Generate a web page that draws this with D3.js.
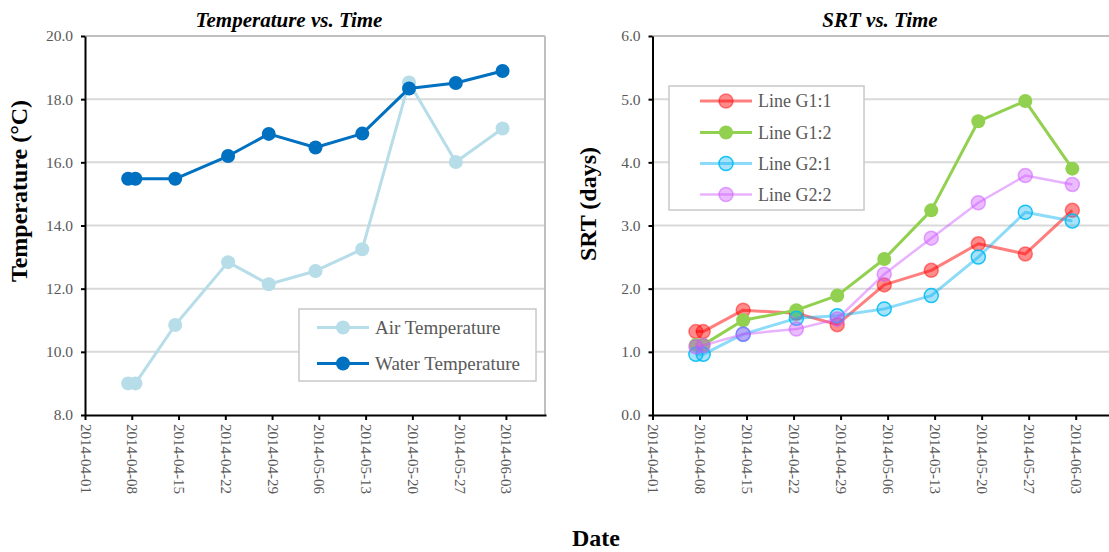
<!DOCTYPE html>
<html>
<head>
<meta charset="utf-8">
<script src="https://cdn.jsdelivr.net/npm/d3@7"></script>
<style>
  body { margin: 0; background: #fff; }
  svg { display: block; }
</style>
</head>
<body>
<svg width="1109" height="552"></svg>
<script>
// dates of the samples (read off the plot, not exactly on the weekly ticks)
const sampleDates = ["2014-04-07 11:00", "2014-04-08 13:00", "2014-04-14 12:00", "2014-04-22 10:00",
  "2014-04-28 12:00", "2014-05-05 12:00", "2014-05-12 12:00", "2014-05-19 12:00",
  "2014-05-26 12:00", "2014-06-02 12:00"];

const airTemp   = [9.0, 9.0, 10.85, 12.84, 12.14, 12.56, 13.25, 18.53, 16.01, 17.07];
const waterTemp = [15.48, 15.48, 15.48, 16.2, 16.9, 16.47, 16.91, 18.34, 18.51, 18.89];

const srtG11 = [1.32, 1.32, 1.66, 1.61, 1.43, 2.06, 2.29, 2.71, 2.55, 3.24];
const srtG12 = [1.11, 1.11, 1.50, 1.66, 1.89, 2.47, 3.24, 4.65, 4.97, 3.90];
const srtG21 = [0.96, 0.96, 1.28, 1.53, 1.57, 1.68, 1.89, 2.50, 3.21, 3.07];
const srtG22 = [1.08, 1.10, 1.28, 1.36, 1.52, 2.23, 2.80, 3.36, 3.79, 3.65];

const dateTicks = ["2014-04-01", "2014-04-08", "2014-04-15", "2014-04-22", "2014-04-29",
  "2014-05-06", "2014-05-13", "2014-05-20", "2014-05-27", "2014-06-03"];
const dateDomain = ["2014-04-01", "2014-06-09"];
const tempTicks = [8, 10, 12, 14, 16, 18, 20];
const srtTicks = [0, 1, 2, 3, 4, 5, 6];

const serif = "'Liberation Serif', 'Times New Roman', serif";
const grayText = "#595959";

const svg = d3.select("svg");
const parseTime = d3.timeParse("%Y-%m-%d %H:%M");
const parseDay = d3.timeParse("%Y-%m-%d");
const dates = sampleDates.map(parseTime);

function drawPanel(o) {
  const x = d3.scaleTime().domain(dateDomain.map(parseDay)).range([o.left, o.right]);
  const y = d3.scaleLinear().domain(d3.extent(o.yTicks)).range([415, 36]);
  const g = svg.append("g");

  // grid lines
  g.selectAll(".grid")
    .data(o.yTicks.slice(1, -1))
    .join("line")
    .attr("x1", o.left).attr("x2", o.gridRight)
    .attr("y1", d => y(d)).attr("y2", d => y(d))
    .attr("stroke", "#d9d9d9").attr("stroke-width", 2);

  // top / right border
  g.append("line")
    .attr("x1", o.left).attr("x2", o.gridRight)
    .attr("y1", y(o.yTicks[o.yTicks.length - 1])).attr("y2", y(o.yTicks[o.yTicks.length - 1]))
    .attr("stroke", "#bfbfbf").attr("stroke-width", 2);
  if (o.rightBorder) {
    g.append("line")
      .attr("x1", o.gridRight).attr("x2", o.gridRight)
      .attr("y1", 36).attr("y2", 415)
      .attr("stroke", "#bfbfbf").attr("stroke-width", 2);
  }

  // y axis
  const yAxis = d3.axisLeft(y).tickValues(o.yTicks).tickFormat(d3.format(".1f"))
    .tickSize(4).tickSizeOuter(0).tickPadding(8);
  g.append("g")
    .attr("transform", `translate(${o.left},0)`)
    .call(yAxis)
    .attr("font-family", serif).attr("font-size", 15.5)
    .call(a => a.select(".domain").attr("stroke", "#000").attr("stroke-width", 2))
    .call(a => a.selectAll(".tick line").attr("stroke", "#000").attr("stroke-width", 2))
    .call(a => a.selectAll(".tick text").attr("fill", grayText));

  // x axis
  const xAxis = d3.axisBottom(x).tickValues(dateTicks.map(parseDay))
    .tickFormat(d3.timeFormat("%Y-%m-%d")).tickSize(5).tickSizeOuter(0);
  g.append("g")
    .attr("transform", "translate(0,415)")
    .call(xAxis)
    .attr("font-family", serif).attr("font-size", 15)
    .call(a => a.select(".domain").attr("stroke", "#000").attr("stroke-width", 2))
    .call(a => a.selectAll(".tick line").attr("stroke", "#000").attr("stroke-width", 2))
    .call(a => a.selectAll(".tick text")
      .attr("fill", grayText)
      .attr("transform", "rotate(90)")
      .attr("text-anchor", "start")
      .attr("x", 9).attr("y", 0).attr("dy", "0.33em"));

  // series
  const line = d3.line().x((d, i) => x(dates[i])).y(d => y(d));
  o.series.forEach(s => {
    const sg = g.append("g");
    sg.append("path")
      .attr("d", line(s.values))
      .attr("fill", "none")
      .attr("stroke", s.line).attr("stroke-width", s.width)
      .attr("stroke-linejoin", "round");
    sg.selectAll("circle")
      .data(s.values)
      .join("circle")
      .attr("cx", (d, i) => x(dates[i]))
      .attr("cy", d => y(d))
      .attr("r", s.r)
      .attr("fill", s.fill)
      .attr("stroke", s.stroke || "none")
      .attr("stroke-width", s.stroke ? 1.5 : 0);
  });

  // legend
  const lg = g.append("g");
  lg.append("rect")
    .attr("x", o.legend.x).attr("y", o.legend.y)
    .attr("width", o.legend.w).attr("height", o.legend.h)
    .attr("fill", "#fff").attr("stroke", "#c8c8c8").attr("stroke-width", 1.5);
  o.series.forEach((s, i) => {
    const ly = o.legend.rows[i];
    const lx = o.legend.sx;
    lg.append("line")
      .attr("x1", lx).attr("x2", lx + 52).attr("y1", ly).attr("y2", ly)
      .attr("stroke", s.line).attr("stroke-width", s.width);
    lg.append("circle")
      .attr("cx", lx + 26).attr("cy", ly).attr("r", s.r)
      .attr("fill", s.fill)
      .attr("stroke", s.stroke || "none")
      .attr("stroke-width", s.stroke ? 1.5 : 0);
    lg.append("text")
      .attr("x", lx + 58).attr("y", ly).attr("dy", "0.34em")
      .attr("font-family", serif).attr("font-size", o.legend.fontSize)
      .attr("fill", grayText)
      .text(s.name);
  });

  // title
  g.append("text")
    .attr("x", o.titleX).attr("y", 27)
    .attr("text-anchor", "middle")
    .attr("font-family", serif).attr("font-size", 21)
    .attr("font-weight", "bold").attr("font-style", "italic")
    .text(o.title);

  // y title
  g.append("text")
    .attr("transform", `translate(${o.yTitleX},${o.yTitleY}) rotate(-90)`)
    .attr("text-anchor", "middle")
    .attr("font-family", serif).attr("font-size", 24).attr("font-weight", "bold")
    .text(o.yTitle);
}

drawPanel({
  left: 85, right: 546, gridRight: 545, rightBorder: true,
  yTicks: tempTicks,
  title: "Temperature vs. Time", titleX: 289,
  yTitle: "Temperature (°C)", yTitleX: 27, yTitleY: 191,
  series: [
    { name: "Air Temperature", values: airTemp, line: "#b6dde8", width: 3, r: 7, fill: "#b6dde8" },
    { name: "Water Temperature", values: waterTemp, line: "#0070c0", width: 3, r: 7, fill: "#0070c0" }
  ],
  legend: { x: 299, y: 309, w: 237, h: 72, sx: 317, rows: [327.5, 363.5], fontSize: 19 }
});

drawPanel({
  left: 652.5, right: 1116, gridRight: 1109, rightBorder: false,
  yTicks: srtTicks,
  title: "SRT vs. Time", titleX: 880,
  yTitle: "SRT (days)", yTitleX: 596, yTitleY: 204,
  series: [
    { name: "Line G1:1", values: srtG11, line: "rgba(255,0,0,0.5)", width: 3, r: 7,
      fill: "rgba(255,0,0,0.45)", stroke: "rgba(255,0,0,0.45)" },
    { name: "Line G1:2", values: srtG12, line: "#92d050", width: 3, r: 7, fill: "#92d050" },
    { name: "Line G2:1", values: srtG21, line: "rgba(0,176,240,0.45)", width: 3, r: 7,
      fill: "rgba(0,176,240,0.35)", stroke: "rgba(0,190,245,0.9)" },
    { name: "Line G2:2", values: srtG22, line: "rgba(204,85,255,0.45)", width: 2.5, r: 7,
      fill: "rgba(204,85,255,0.4)", stroke: "rgba(204,85,255,0.5)" }
  ],
  legend: { x: 669, y: 86, w: 195, h: 124, sx: 700, rows: [101, 132.5, 163.5, 194.5], fontSize: 18 }
});

svg.append("text")
  .attr("x", 596).attr("y", 546)
  .attr("text-anchor", "middle")
  .attr("font-family", serif).attr("font-size", 24).attr("font-weight", "bold")
  .text("Date");
</script>
</body>
</html>
